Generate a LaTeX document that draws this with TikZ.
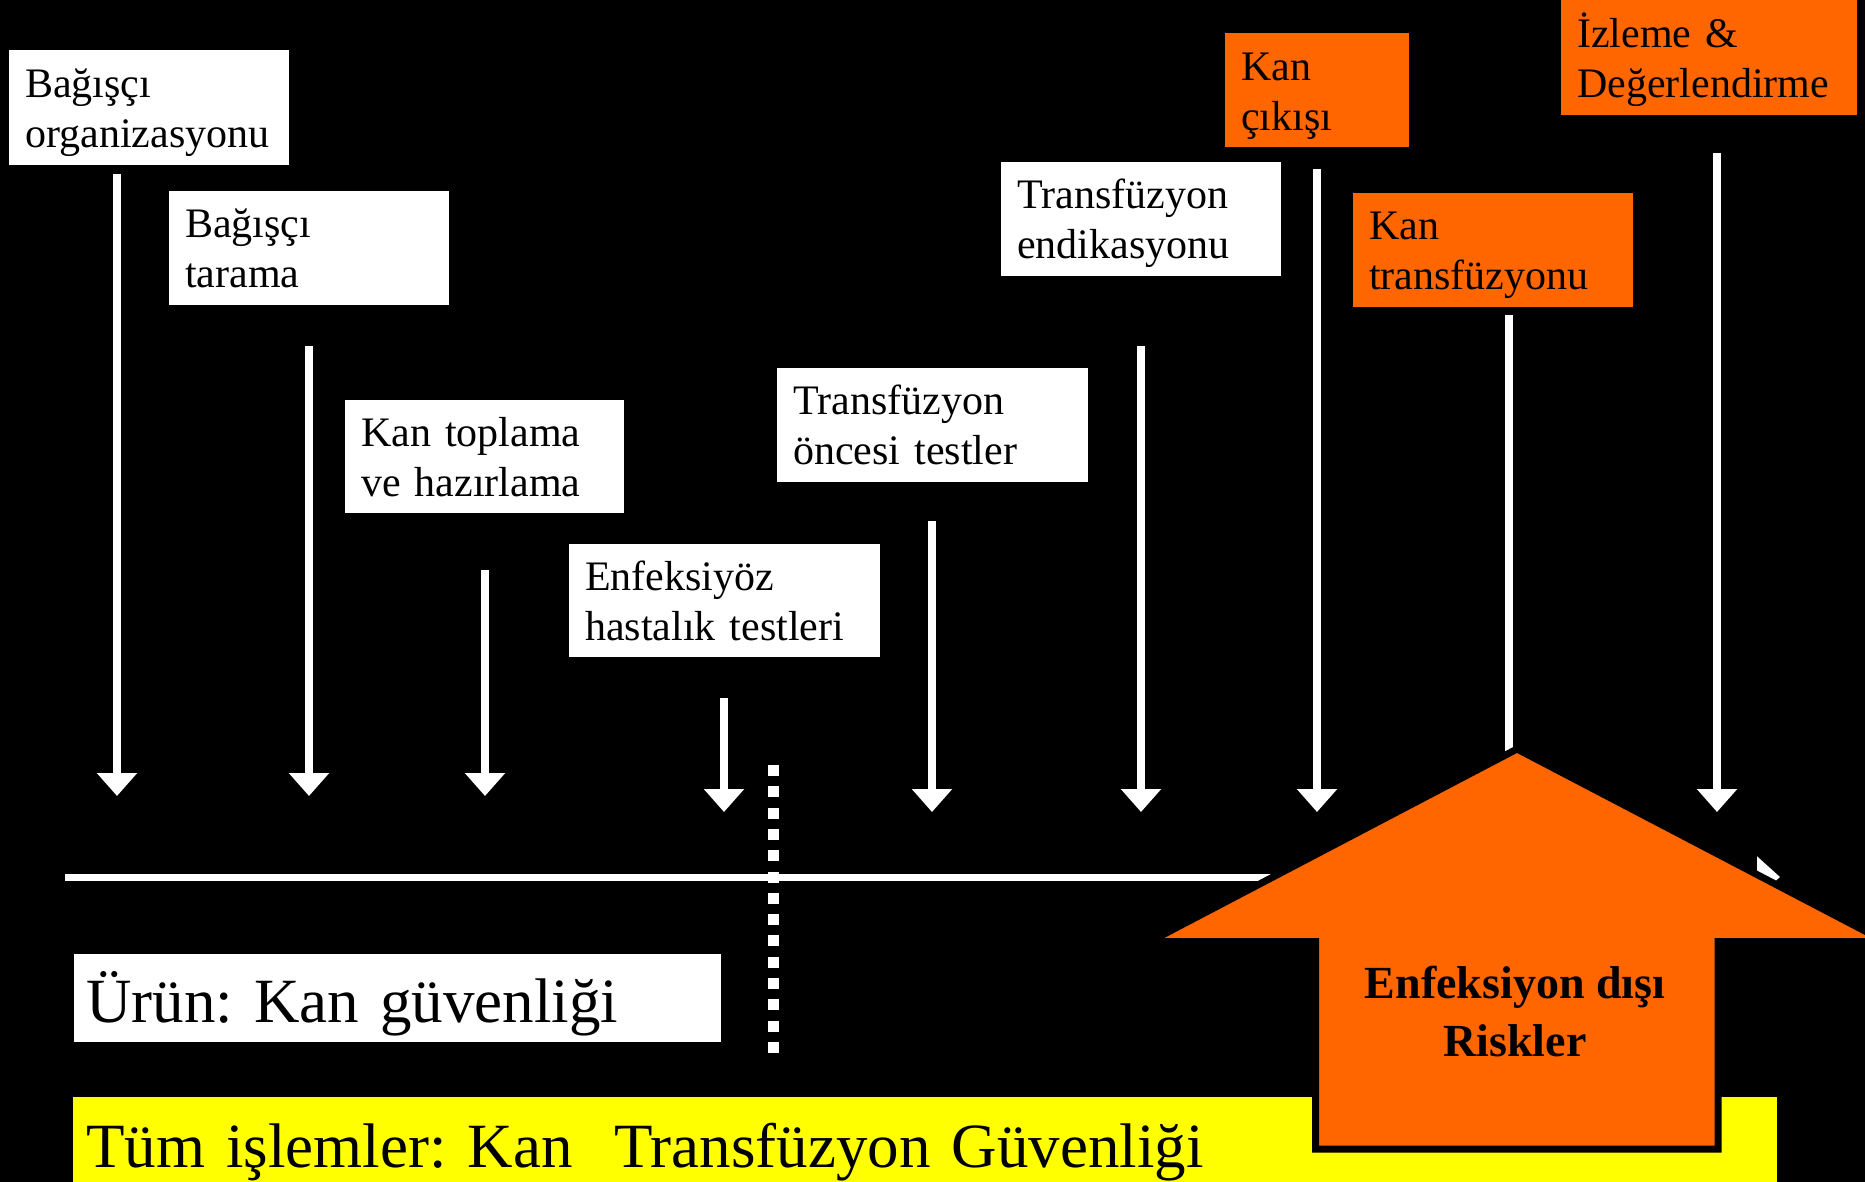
\documentclass[tikz,border=0pt]{standalone}
\usepackage{fontspec}
\setmainfont{Liberation Serif}
\usetikzlibrary{arrows.meta}
\definecolor{orng}{HTML}{FF6600}
\definecolor{yel}{HTML}{FFFF00}
\frenchspacing
\tikzset{
  box/.style={anchor=north west, inner xsep=16pt, inner ysep=0pt, align=left,
    font=\fontsize{42}{50}\selectfont, text height=47pt, text depth=68pt},
  wbox/.style={box, fill=white},
  obox/.style={box, fill=orng},
  flow/.style={draw=white, line width=8pt, -{Triangle[width=39pt,length=23pt]}},
  biglabel/.style={anchor=north west, inner ysep=0pt, align=left,
    font=\fontsize{63}{70}\selectfont},
}
\begin{document}
\begin{tikzpicture}[x=1pt,y=-1pt]
\useasboundingbox (0,0) rectangle (1865,1182);
\fill[black] (0,0) rectangle (1865,1182);

% boxes
\node[wbox, text width=248pt] (b1) at (9,50) {Bağışçı\\organizasyonu};
\node[wbox, text width=248pt, text height=46pt] (b2) at (169,191) {Bağışçı\\tarama};
\node[wbox, text width=247pt, text height=46pt, text depth=67pt] (b3) at (345,400) {Kan toplama\\ve hazırlama};
\node[wbox, text width=279pt, text height=46pt, text depth=67pt] (b4) at (569,544) {Enfeksiyöz\\hastalık testleri};
\node[wbox, text width=279pt, text height=46pt, text depth=68pt] (b5) at (777,368) {Transfüzyon\\öncesi testler};
\node[wbox, text width=248pt, text height=46pt, text depth=68pt] (b6) at (1001,162) {Transfüzyon\\endikasyonu};
\node[obox, text width=152pt, text height=47pt, text depth=67pt] (b7) at (1225,33) {Kan\\çıkışı};
\node[obox, text width=248pt, text height=46pt, text depth=68pt] (b8) at (1353,193) {Kan\\transfüzyonu};
\node[obox, text width=264pt, text height=47pt, text depth=68pt] (b9) at (1561,0) {İzleme \&\\Değerlendirme};

% arrow coordinates
\coordinate (s1) at (117,174);  \coordinate (e1) at (117,796);
\coordinate (s2) at (309,346);  \coordinate (e2) at (309,796);
\coordinate (s3) at (485,570);  \coordinate (e3) at (485,796);
\coordinate (s4) at (724,698);  \coordinate (e4) at (724,812);
\coordinate (s5) at (932,521);  \coordinate (e5) at (932,812);
\coordinate (s6) at (1141,346); \coordinate (e6) at (1141,812);
\coordinate (s7) at (1317,169); \coordinate (e7) at (1317,812);
\coordinate (s8) at (1509,315); \coordinate (e8) at (1509,812);
\coordinate (s9) at (1717,153); \coordinate (e9) at (1717,812);

\draw[flow] (s1) -- (e1);
\draw[flow] (s2) -- (e2);
\draw[flow] (s3) -- (e3);
\draw[flow] (s4) -- (e4);
\draw[flow] (s5) -- (e5);
\draw[flow] (s6) -- (e6);
\draw[flow] (s7) -- (e7);
\draw[flow] (s8) -- (e8);
\draw[flow] (s9) -- (e9);

% timeline
\coordinate (ta) at (65,877);
\coordinate (tb) at (1780,877);
\draw[draw=white, line width=7pt, -{Triangle[width=40pt,length=23pt]}] (ta) -- (tb);

% dotted divider
\coordinate (da) at (773,765);
\coordinate (db) at (773,1053);
\draw[white, line width=11pt, dash pattern=on 11pt off 10.3pt] (da) -- (db);

% bottom labels
\node[biglabel, fill=white, inner xsep=12pt, text width=623pt,
      text height=68pt, text depth=20pt] (urun) at (74,954) {Ürün: Kan güvenliği};
\node[biglabel, fill=yel, inner xsep=13pt, text width=1678pt,
      text height=70pt, text depth=15pt] (tum) at (73,1097) {Tüm işlemler: Kan\ \ Transfüzyon Güvenliği};

% big orange arrow
\draw[fill=orng, draw=black, line width=7pt]
  (1517,749) -- (1885,941.5) -- (1718,941.5) -- (1718,1149) -- (1315.5,1149)
  -- (1315.5,941.5) -- (1150,941.5) -- cycle;
\node[font=\bfseries\fontsize{46}{58}\selectfont, align=center, anchor=base] (risk) at (1515,1056)
  {Enfeksiyon dışı\\Riskler};
\end{tikzpicture}
\end{document}
